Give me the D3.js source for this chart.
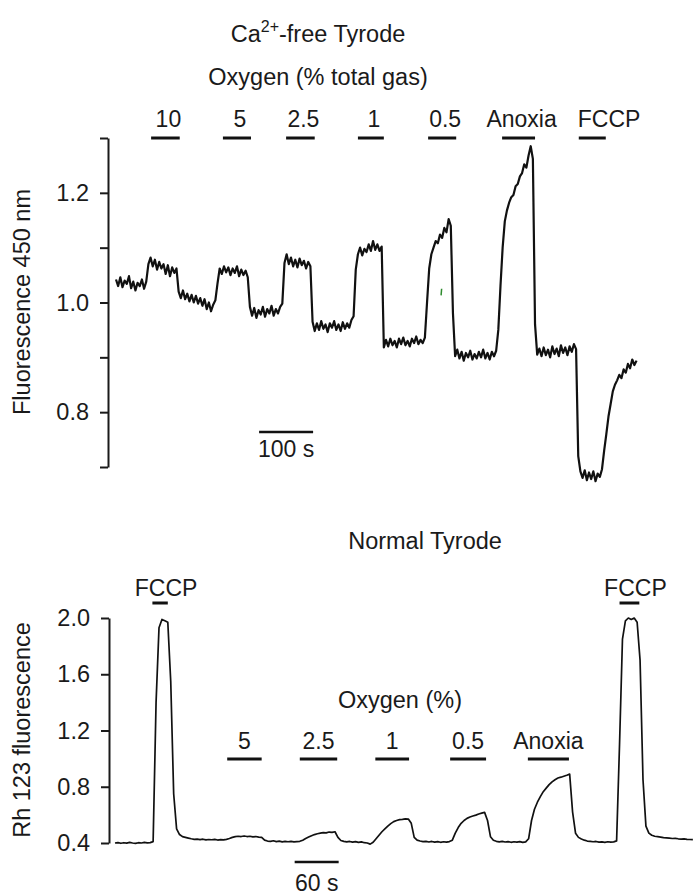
<!DOCTYPE html>
<html>
<head>
<meta charset="utf-8">
<script src="https://cdn.jsdelivr.net/npm/d3@7"></script>
<style>
  body { margin: 0; background: #fff; }
  svg text { font-family: "Liberation Sans", Arial, Helvetica, sans-serif; fill: #1a1a1a; }
  .axis path, .axis line { stroke: #1a1a1a; stroke-width: 2; }
  .axis text { font-size: 23.5px; }
</style>
</head>
<body>
<div id="chart"></div>
<script>
// Ca2+-free Tyrode trace (fluorescence 450 nm), one sample every 4 s
const topDt = 4;
const topValues = [
  1.042, 1.030, 1.046, 1.028, 1.040, 1.034, 1.048, 1.026, 1.038, 1.022,
  1.036, 1.030, 1.042, 1.025, 1.038,
  1.070, 1.082, 1.066, 1.078, 1.060, 1.074, 1.062, 1.070, 1.052, 1.068,
  1.048, 1.064, 1.054, 1.062,
  1.020, 1.008, 1.022, 1.006, 1.016, 1.002, 1.014, 1.000, 1.012, 0.998,
  1.008, 0.994, 1.006, 0.988, 1.000, 0.984, 0.996, 1.004,
  1.035,
  1.062, 1.052, 1.066, 1.055, 1.064, 1.050, 1.062, 1.054, 1.066, 1.048,
  1.060, 1.050, 1.058, 1.046,
  0.992, 0.976, 0.990, 0.972, 0.986, 0.978, 0.992, 0.974, 0.988, 0.980,
  0.994, 0.976, 0.988, 0.980, 0.992, 0.998,
  1.072, 1.088, 1.070, 1.082, 1.066, 1.078, 1.064, 1.080, 1.068, 1.076,
  1.062, 1.074, 1.066,
  0.965, 0.948, 0.962, 0.950, 0.966, 0.952, 0.960, 0.946, 0.962, 0.954,
  0.966, 0.950, 0.960, 0.948, 0.964, 0.952, 0.962, 0.954, 0.968, 0.975,
  1.060,
  1.088, 1.100, 1.086, 1.098, 1.092, 1.106, 1.094, 1.112, 1.096, 1.106,
  1.094, 1.102,
  0.918, 0.932, 0.920, 0.934, 0.922, 0.930, 0.918, 0.934, 0.924, 0.936,
  0.922, 0.930, 0.920, 0.934, 0.926, 0.938, 0.924, 0.932, 0.926, 0.936,
  1.000, 1.062, 1.088, 1.100, 1.112, 1.108, 1.124, 1.118, 1.136, 1.128,
  1.152, 1.140, 0.980,
  0.902, 0.914, 0.898, 0.910, 0.894, 0.908, 0.900, 0.912, 0.896, 0.906,
  0.898, 0.910, 0.900, 0.914, 0.898, 0.908, 0.896, 0.910, 0.902, 0.912,
  0.950, 1.030, 1.100, 1.148, 1.168, 1.182, 1.192, 1.196, 1.212, 1.216,
  1.230, 1.236, 1.252, 1.246, 1.268, 1.285, 1.262, 0.960, 0.905,
  0.916, 0.902, 0.918, 0.904, 0.914, 0.900, 0.920, 0.906, 0.916, 0.902,
  0.922, 0.908, 0.918, 0.904, 0.920, 0.910, 0.924, 0.915,
  0.720, 0.692, 0.680, 0.694, 0.676, 0.690, 0.678, 0.692, 0.674, 0.688,
  0.682, 0.696,
  0.730, 0.760, 0.792, 0.815, 0.838, 0.850, 0.858, 0.868, 0.862, 0.878,
  0.872, 0.888, 0.880, 0.896, 0.886, 0.894
];
const topTicks = [0.7, 0.8, 0.9, 1.0, 1.1, 1.2, 1.3];
const topTickLabels = [0.8, 1.0, 1.2];
const topEventLabels = ["10", "5", "2.5", "1", "0.5", "Anoxia", "FCCP"];
const topEventStart = [65, 198, 315, 448, 578, 715, 857];
const topEventEnd = [118, 250, 368, 496, 630, 776, 907];
const topScaleBar = [265, 365];

// Normal Tyrode trace (Rh 123 fluorescence), one sample every 4 s
const botDt = 4;
const botValues = [
  0.400, 0.403, 0.398, 0.402, 0.399, 0.404, 0.400, 0.397, 0.402, 0.400,
  0.404, 0.401, 0.403,
  0.410, 1.400, 1.930, 1.990, 1.980, 1.970, 1.550, 0.750, 0.500, 0.460,
  0.445, 0.440, 0.435,
  0.430, 0.426, 0.428, 0.424, 0.427, 0.422, 0.425, 0.423, 0.426, 0.421,
  0.424, 0.422, 0.426,
  0.432, 0.440, 0.445, 0.448, 0.446, 0.450, 0.446, 0.448, 0.444, 0.446,
  0.442, 0.440,
  0.420, 0.414, 0.412, 0.416, 0.410, 0.413, 0.408, 0.412, 0.409, 0.412,
  0.408, 0.410, 0.412,
  0.420, 0.432, 0.442, 0.452, 0.460, 0.466, 0.470, 0.474, 0.472, 0.478,
  0.476, 0.480,
  0.440, 0.418,
  0.412, 0.408, 0.411, 0.406, 0.410, 0.404, 0.408, 0.402, 0.400,
  0.392, 0.405,
  0.430, 0.455, 0.480, 0.500, 0.520, 0.538, 0.552, 0.560, 0.566, 0.568,
  0.572, 0.570, 0.540, 0.440, 0.420,
  0.414, 0.410, 0.412, 0.407, 0.411, 0.406, 0.410, 0.405, 0.409, 0.406,
  0.410, 0.420,
  0.470, 0.510, 0.540, 0.560, 0.575, 0.585, 0.592, 0.598, 0.606, 0.612,
  0.618, 0.560, 0.445, 0.420,
  0.412, 0.408, 0.411, 0.407, 0.410, 0.405, 0.409, 0.406, 0.410, 0.404,
  0.408, 0.430,
  0.560, 0.640, 0.690, 0.730, 0.765, 0.790, 0.815, 0.835, 0.850, 0.862,
  0.868, 0.875, 0.882, 0.890, 0.620, 0.470, 0.440, 0.428,
  0.420, 0.414, 0.412, 0.409, 0.411, 0.406, 0.408, 0.405, 0.409, 0.406,
  0.408, 0.415,
  1.100, 1.850, 1.980, 2.000, 1.990, 2.000, 1.970, 1.700, 0.850, 0.520,
  0.470, 0.455, 0.448, 0.445, 0.442, 0.438, 0.436, 0.434, 0.432, 0.433,
  0.430, 0.428, 0.429, 0.426, 0.425, 0.424
];
const botTicks = [0.4, 0.8, 1.2, 1.6, 2.0];
const botOxyLabels = ["5", "2.5", "1", "0.5", "Anoxia"];
const botOxyStart = [153, 252, 355, 457, 563];
const botOxyEnd = [200, 303, 401, 506, 619];
const botFccpStart = [51, 688];
const botFccpEnd = [72, 715];
const botScaleBar = [245, 305];

// small green stroke seen in the top panel
const greenMark = [[602, 1.013], [603, 1.025]];

const width = 694, height = 896;
const svg = d3.select('#chart').append('svg')
    .attr('width', width)
    .attr('height', height);

// ---------- top panel ----------
const xTop = d3.scaleLinear().domain([0, 1000]).range([116, 656]);
const yTop = d3.scaleLinear().domain([0.7, 1.3]).range([467, 138]);

svg.append('g')
    .attr('class', 'axis')
    .attr('transform', 'translate(108,0)')
    .call(d3.axisLeft(yTop)
        .tickValues(topTicks)
        .tickSize(8)
        .tickPadding(11)
        .tickSizeOuter(0)
        .tickFormat(d => topTickLabels.some(v => Math.abs(v - d) < 1e-9) ? d3.format('.1f')(d) : ''));

const topLine = d3.line()
    .x((d, i) => xTop(i * topDt))
    .y(d => yTop(d));

svg.append('path')
    .datum(topValues)
    .attr('d', topLine)
    .attr('fill', 'none')
    .attr('stroke', '#111')
    .attr('stroke-width', 2.2)
    .attr('stroke-linejoin', 'round');

svg.append('path')
    .datum(greenMark)
    .attr('d', d3.line().x(d => xTop(d[0])).y(d => yTop(d[1])))
    .attr('stroke', '#2e8b2e')
    .attr('stroke-width', 1.5);

topEventLabels.forEach((lab, i) => {
    const x0 = xTop(topEventStart[i]), x1 = xTop(topEventEnd[i]);
    svg.append('line')
        .attr('x1', x0).attr('x2', x1)
        .attr('y1', 138).attr('y2', 138)
        .attr('stroke', '#111').attr('stroke-width', 3);
    // FCCP sits flush with the start of its bar, the rest are centred
    const isFccp = lab === 'FCCP';
    svg.append('text')
        .attr('x', isFccp ? x0 - 1 : (x0 + x1) / 2 + 3)
        .attr('y', 127)
        .attr('text-anchor', isFccp ? 'start' : 'middle')
        .style('font-size', '23px')
        .text(lab);
});

svg.append('line')
    .attr('x1', xTop(topScaleBar[0])).attr('x2', xTop(topScaleBar[1]))
    .attr('y1', 432).attr('y2', 432)
    .attr('stroke', '#111').attr('stroke-width', 2.5);
svg.append('text')
    .attr('x', (xTop(topScaleBar[0]) + xTop(topScaleBar[1])) / 2)
    .attr('y', 457)
    .attr('text-anchor', 'middle')
    .style('font-size', '23px')
    .text('100 s');

const title = svg.append('text')
    .attr('x', 318).attr('y', 42)
    .attr('text-anchor', 'middle')
    .style('font-size', '23.5px');
title.append('tspan').text('Ca');
title.append('tspan').attr('dy', -10).style('font-size', '16px').text('2+');
title.append('tspan').attr('dy', 10).text('-free Tyrode');

svg.append('text')
    .attr('x', 318).attr('y', 85)
    .attr('text-anchor', 'middle')
    .style('font-size', '23.5px')
    .text('Oxygen (% total gas)');

svg.append('text')
    .attr('transform', 'translate(30,302) rotate(-90)')
    .attr('text-anchor', 'middle')
    .style('font-size', '23.5px')
    .text('Fluorescence 450 nm');

// ---------- bottom panel ----------
const xBot = d3.scaleLinear().domain([0, 600]).range([115, 555]);
const yBot = d3.scaleLinear().domain([0.4, 2.0]).range([843, 618]);

svg.append('g')
    .attr('class', 'axis')
    .attr('transform', 'translate(109,0)')
    .call(d3.axisLeft(yBot)
        .tickValues(botTicks)
        .tickSize(8)
        .tickPadding(11)
        .tickSizeOuter(0)
        .tickFormat(d3.format('.1f')));

const botLine = d3.line()
    .x((d, i) => xBot(i * botDt))
    .y(d => yBot(d));

svg.append('path')
    .datum(botValues)
    .attr('d', botLine)
    .attr('fill', 'none')
    .attr('stroke', '#111')
    .attr('stroke-width', 1.7)
    .attr('stroke-linejoin', 'round');

botOxyLabels.forEach((lab, i) => {
    const x0 = xBot(botOxyStart[i]), x1 = xBot(botOxyEnd[i]);
    svg.append('line')
        .attr('x1', x0).attr('x2', x1)
        .attr('y1', 759).attr('y2', 759)
        .attr('stroke', '#111').attr('stroke-width', 3);
    svg.append('text')
        .attr('x', (x0 + x1) / 2)
        .attr('y', 749)
        .attr('text-anchor', 'middle')
        .style('font-size', '23px')
        .text(lab);
});

botFccpStart.forEach((s, i) => {
    const x0 = xBot(s), x1 = xBot(botFccpEnd[i]);
    svg.append('line')
        .attr('x1', x0).attr('x2', x1)
        .attr('y1', 603).attr('y2', 603)
        .attr('stroke', '#111').attr('stroke-width', 3);
    svg.append('text')
        .attr('x', (x0 + x1) / 2 + 6)
        .attr('y', 596)
        .attr('text-anchor', 'middle')
        .style('font-size', '23px')
        .text('FCCP');
});

svg.append('text')
    .attr('x', 400).attr('y', 708)
    .attr('text-anchor', 'middle')
    .style('font-size', '23.5px')
    .text('Oxygen (%)');

svg.append('text')
    .attr('x', 425).attr('y', 549)
    .attr('text-anchor', 'middle')
    .style('font-size', '23.5px')
    .text('Normal Tyrode');

svg.append('line')
    .attr('x1', xBot(botScaleBar[0])).attr('x2', xBot(botScaleBar[1]))
    .attr('y1', 862).attr('y2', 862)
    .attr('stroke', '#111').attr('stroke-width', 2.5);
svg.append('text')
    .attr('x', (xBot(botScaleBar[0]) + xBot(botScaleBar[1])) / 2)
    .attr('y', 891)
    .attr('text-anchor', 'middle')
    .style('font-size', '23px')
    .text('60 s');

svg.append('text')
    .attr('transform', 'translate(30,730) rotate(-90)')
    .attr('text-anchor', 'middle')
    .style('font-size', '23.5px')
    .text('Rh 123 fluorescence');
</script>
</body>
</html>
